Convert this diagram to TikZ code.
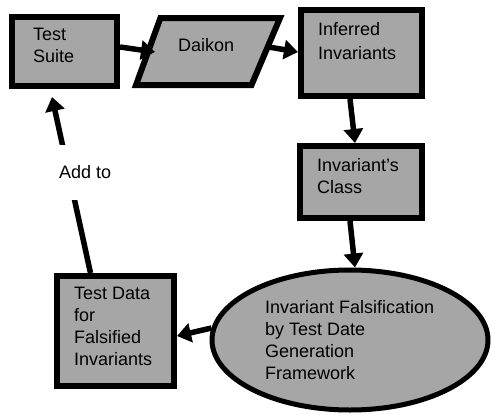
\documentclass[tikz,border=0pt]{standalone}
\usepackage{fontspec}
\setmainfont{Liberation Sans}
\usetikzlibrary{arrows.meta,shapes.geometric}
\definecolor{boxfill}{RGB}{166,166,166}
\begin{document}
\begin{tikzpicture}[x=1pt,y=-1pt,
  every node/.style={font=\fontsize{18}{22}\selectfont},
  box/.style={draw=black, line width=6pt, fill=boxfill, rectangle, inner sep=0pt},
  lbl/.style={anchor=north west, inner sep=0pt, align=left},
  flow/.style={line width=5.5pt, -{Triangle[length=14pt,width=19pt]}}
]
\useasboundingbox (0,0) rectangle (493,415);
% shapes
\node[box, minimum width=105pt, minimum height=69pt] (ts) at (64.5,51.5) {};
\coordinate (dkBL) at (136,85);
\coordinate (dkTL) at (160.4,18);
\coordinate (dkTR) at (280,18);
\coordinate (dkBR) at (251.5,85);
\draw[line width=6pt, fill=boxfill, line join=miter] (dkBL) -- (dkTL) -- (dkTR) -- (dkBR) -- cycle;
\coordinate (dkin) at (155,52);
\coordinate (dkout) at (265.75,46.5);
\node[box, minimum width=121pt, minimum height=86pt] (inf) at (361.5,53) {};
\node[box, minimum width=122pt, minimum height=72pt] (cls) at (361,182) {};
\node[draw=black, line width=5pt, fill=boxfill, ellipse, minimum width=276pt, minimum height=140pt, inner sep=0pt] (ell) at (350,340) {};
\node[box, minimum width=117pt, minimum height=110pt] (td) at (115.5,331) {};
% texts
\node[lbl] (tsT) at (33,28) {Test\\Suite};
\node[lbl] (dkT) at (178,38) {Daikon};
\node[lbl, font=\fontsize{18}{24.5}\selectfont] (infT) at (318,22) {Inferred\\Invariants};
\node[lbl] (clsT) at (317,158) {Invariant's\\Class};
\node[lbl] (tdT) at (74,287) {Test Data\\for\\Falsified\\Invariants};
\node[lbl] (ellT) at (265,300) {Invariant Falsification\\by Test Date\\Generation\\Framework};
% connectors
\draw[flow] ([yshift=4.5pt]ts.east) -- (dkin);
\draw[flow] (dkout) -- ([yshift=1pt]inf.west);
\draw[flow] ([xshift=-11.5pt]inf.south) -- ([xshift=-6pt]cls.north);
\draw[flow] ([xshift=-11pt]cls.south) -- ([xshift=5pt]ell.north);
\draw[flow] ([xshift=2pt,yshift=12pt]ell.west) -- ([yshift=-5pt]td.east);
\draw[flow] ([xshift=-25pt]td.north) -- ([xshift=-12.5pt,yshift=-8pt]ts.south);
\node[fill=white, anchor=west, inner xsep=2pt, inner ysep=0pt, minimum height=55pt] (addto) at (57,172) {Add to};
\end{tikzpicture}
\end{document}
